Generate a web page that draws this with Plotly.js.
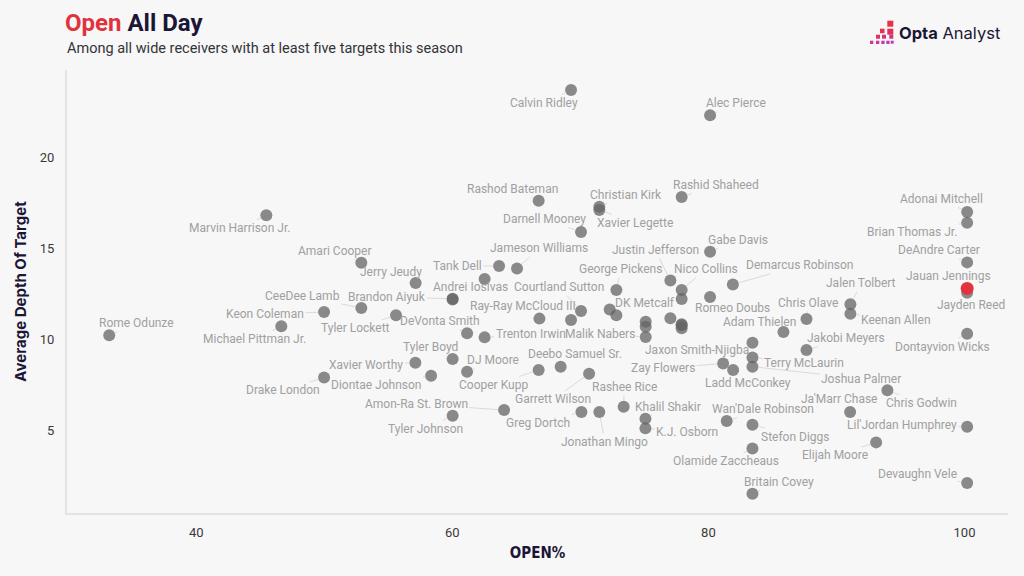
<!DOCTYPE html>
<html>
<head>
<meta charset="utf-8">
<script src="https://cdn.plot.ly/plotly-3.0.1.min.js"></script>
<style>
  html, body { margin: 0; padding: 0; background: #f7f7f7; }
  #chart { width: 1024px; height: 576px; }
</style>
</head>
<body>
<div id="chart"></div>
<script>
// ---------------- DATA ----------------
const names = [
  "Calvin Ridley","Alec Pierce","Rashod Bateman","Christian Kirk","Xavier Legette","Rashid Shaheed",
  "Darnell Mooney","Gabe Davis","Jameson Williams","Tank Dell","Andrei Iosivas","Courtland Sutton",
  "Justin Jefferson","George Pickens","Nico Collins","Demarcus Robinson","Romeo Doubs","Jalen Tolbert",
  "Keenan Allen","Chris Olave","Adam Thielen","Jakobi Meyers","Adonai Mitchell","Brian Thomas Jr.",
  "DeAndre Carter","Jauan Jennings","Jayden Reed","Dontayvion Wicks","Marvin Harrison Jr.","Amari Cooper",
  "Jerry Jeudy","CeeDee Lamb","Brandon Aiyuk","Keon Coleman","Tyler Lockett","DeVonta Smith",
  "Rome Odunze","Michael Pittman Jr.","Trenton Irwin","Ray-Ray McCloud III","Malik Nabers","DK Metcalf",
  "Tyler Boyd","DJ Moore","Xavier Worthy","Diontae Johnson","Drake London","Cooper Kupp",
  "Deebo Samuel Sr.","Garrett Wilson","Rashee Rice","Khalil Shakir","K.J. Osborn","Amon-Ra St. Brown",
  "Tyler Johnson","Greg Dortch","Jonathan Mingo","Jaxon Smith-Njigba","Terry McLaurin","Joshua Palmer",
  "Zay Flowers","Ladd McConkey","Chris Godwin","Ja'Marr Chase","Lil'Jordan Humphrey","Elijah Moore",
  "Devaughn Vele","Wan'Dale Robinson","Stefon Diggs","Olamide Zaccheaus","Britain Covey",
  "","","","","","","","","",""
];
const openPct = [
  69.27,80.13,66.74,71.48,71.48,77.91,
  70.05,80.13,65.05,63.65,62.52,70.05,
  77.03,72.81,77.91,81.91,80.13,91.09,
  91.09,87.66,85.86,87.66,100.21,100.21,
  100.21,100.21,100.21,100.21,45.47,52.89,
  57.13,52.89,60.02,49.98,55.60,61.15,
  33.20,46.64,62.52,66.80,75.10,72.29,
  60.02,61.15,57.11,58.34,49.98,66.74,
  68.46,70.68,73.38,75.08,75.08,64.04,
  60.02,70.08,71.48,83.44,83.44,83.44,
  81.15,81.93,93.98,91.07,100.21,93.10,
  100.21,81.43,83.44,83.44,83.44,
  60.02,72.81,69.27,75.10,75.10,77.03,77.91,77.91,77.91,77.91
];
const adot = [
  23.72,22.33,17.64,17.31,17.13,17.84,
  15.92,14.84,13.92,14.05,13.34,11.58,
  13.25,12.73,12.73,13.04,12.35,11.95,
  11.43,11.14,10.42,9.43,17.02,16.43,
  14.25,12.82,12.58,10.33,16.84,14.23,
  13.12,11.74,12.25,11.52,11.34,10.35,
  10.24,10.74,10.13,11.16,10.15,11.66,
  8.94,8.24,8.74,8.02,7.93,8.34,
  8.52,8.13,6.32,5.66,5.13,6.14,
  5.82,6.03,6.03,9.84,9.03,8.52,
  8.70,8.34,7.22,6.03,5.22,4.36,
  2.13,5.53,5.33,4.03,1.54,
  12.21,11.34,11.08,10.99,10.71,11.18,10.85,10.80,10.63,12.24
];
const highlighted = "Jauan Jennings";
const xTicks = [40, 60, 80, 100];
const yTicks = [5, 10, 15, 20];

// Label placement offsets (pixels from each point) — layout only
const labelDX = [
  -27,26,-26,27,36,34.5,
  -37,28,22,-42,-14,-22,
  -15,4.5,24,67.5,22,11,
  46,2,-24,40,-26,-55,
  -28,-19,4,-25,-27,-26,
  -24.5,-59,-66,-59,-40.5,-27,
  27.5,-27,46,-16,-46,35,
  -22,26,-49,-55,-41,-45,
  14,-36,0.5,23,42,-88,
  -27,-43,5.5,-55,52,109,
  -60,15,34,-11,-65,-41,
  -50,36,43.5,-26,27
];
const labelDY = [
  13,-12,-12,-12,13,-12,
  -13,-12,-20,0,8,-24,
  -30.5,-21,-21,-19,11,-21,
  6,-16,-10,-12,-13,9,
  -12,-12,12,13,13,-12,
  -11,-12,-2,2,13,-12,
  -12,13,-3,-12.5,-3,-7,
  -12,-12,2,9,13,15,
  -13,25.6,-20,-12,4,-6,
  13,11,30,7,6,12,
  5,13,13,-13,-2,13,
  -9,-12,12,13,-12
];

// ---------------- BUILD ----------------
const greyX = [], greyY = [], redX = [], redY = [];
names.forEach((n, i) => {
  if (n === highlighted) { redX.push(openPct[i]); redY.push(adot[i]); }
  else { greyX.push(openPct[i]); greyY.push(adot[i]); }
});

const traces = [
  { type: 'scatter', mode: 'markers', x: greyX, y: greyY, hoverinfo: 'skip',
    marker: { size: 12, color: 'rgba(100,100,100,0.75)', line: { width: 0 } } },
  { type: 'scatter', mode: 'markers', x: redX, y: redY, hoverinfo: 'skip',
    marker: { size: 13, color: '#e1333f', line: { width: 0 } } }
];

const annotations = [];
names.forEach((n, i) => {
  if (!n) return;
  annotations.push({
    x: openPct[i], y: adot[i], xref: 'x', yref: 'y',
    text: n, showarrow: true, arrowhead: 0, arrowwidth: 1, arrowcolor: '#dadada',
    standoff: 6, ax: labelDX[i], ay: labelDY[i],
    font: { family: 'Roboto, sans-serif', size: 12, color: '#a0a0a0' }
  });
});

// pixel -> paper helpers for decorations
const L = 67, R = 16, T = 70, B = 63, W = 1024, H = 576;
const pw = W - L - R, ph = H - T - B;
const px = v => (v - L) / pw;
const py = v => (H - B - v) / ph;

// Opta logo squares
const sq = [
  [887.3, 20.7, 6, '#e8304c'],
  [880, 28.7, 4.5, '#e5304f'], [887.3, 28.7, 6, '#e0305a'],
  [876, 34.7, 4, '#dd3266'], [882, 34.7, 4, '#d83470'], [889.3, 34.7, 4, '#d2367c'],
  [870, 40.7, 3.3, '#d0368a'], [876, 40.7, 3.3, '#cb3896'], [881.3, 40.7, 3.3, '#c639a4'],
  [886.3, 40.7, 3.3, '#c23ab0'], [890.7, 40.7, 3, '#bf3bbb']
];
const shapes = sq.map(s => ({
  type: 'rect', xref: 'paper', yref: 'paper',
  x0: px(s[0]), x1: px(s[0] + s[2]), y0: py(s[1] + s[2]), y1: py(s[1]),
  fillcolor: s[3], line: { width: 0 }, layer: 'above'
}));

annotations.push({
  xref: 'paper', yref: 'paper', x: px(897), y: py(33), xanchor: 'left', yanchor: 'middle',
  showarrow: false,
  text: "<b>Opta</b> Analyst",
  font: { family: 'Inter, Roboto, sans-serif', size: 16.5, color: '#1c1636' }
});
annotations.push({
  xref: 'paper', yref: 'paper', x: px(65), y: py(48), xanchor: 'left', yanchor: 'middle',
  showarrow: false,
  text: "Among all wide receivers with at least five targets this season",
  font: { family: 'Roboto, sans-serif', size: 14.5, color: '#333338' }
});

const layout = {
  width: W, height: H,
  paper_bgcolor: '#f7f7f7', plot_bgcolor: '#f7f7f7',
  margin: { l: L, r: R, t: T, b: B },
  showlegend: false, hovermode: false,
  title: {
    text: "<span style='color:#e1333f'>Open</span> All Day",
    x: 65 / W, xanchor: 'left', xref: 'container',
    y: 1 - 23 / H, yanchor: 'middle', yref: 'container',
    font: { family: 'Roboto, sans-serif', size: 24, weight: 700, color: '#1c1636' }
  },
  xaxis: {
    range: [29.9, 103.4], tickvals: xTicks, ticktext: xTicks.map(String),
    showgrid: false, zeroline: false, showline: true, linecolor: '#e3e3e3', linewidth: 2,
    ticks: '', ticklabelstandoff: 6,
    tickfont: { family: 'Roboto, sans-serif', size: 13, color: '#3a3a3a' },
    title: { text: 'OPEN%', standoff: 9,
      font: { family: "'Liberation Sans Narrow', 'DejaVu Sans Condensed', Roboto, sans-serif", size: 15, weight: 700, color: '#1c1636' } }
  },
  yaxis: {
    range: [0.48, 24.82], tickvals: yTicks, ticktext: yTicks.map(String),
    showgrid: false, zeroline: false, showline: true, linecolor: '#e3e3e3', linewidth: 2,
    ticks: '', ticklabelstandoff: 8,
    tickfont: { family: 'Roboto, sans-serif', size: 13, color: '#3a3a3a' },
    title: { text: 'Average Depth Of Target', standoff: 10,
      font: { family: 'Inter, Roboto, sans-serif', size: 15, weight: 700, color: '#1c1636' } }
  },
  annotations: annotations,
  shapes: shapes
};

Plotly.newPlot('chart', traces, layout, { staticPlot: true, displayModeBar: false });
</script>
</body>
</html>
